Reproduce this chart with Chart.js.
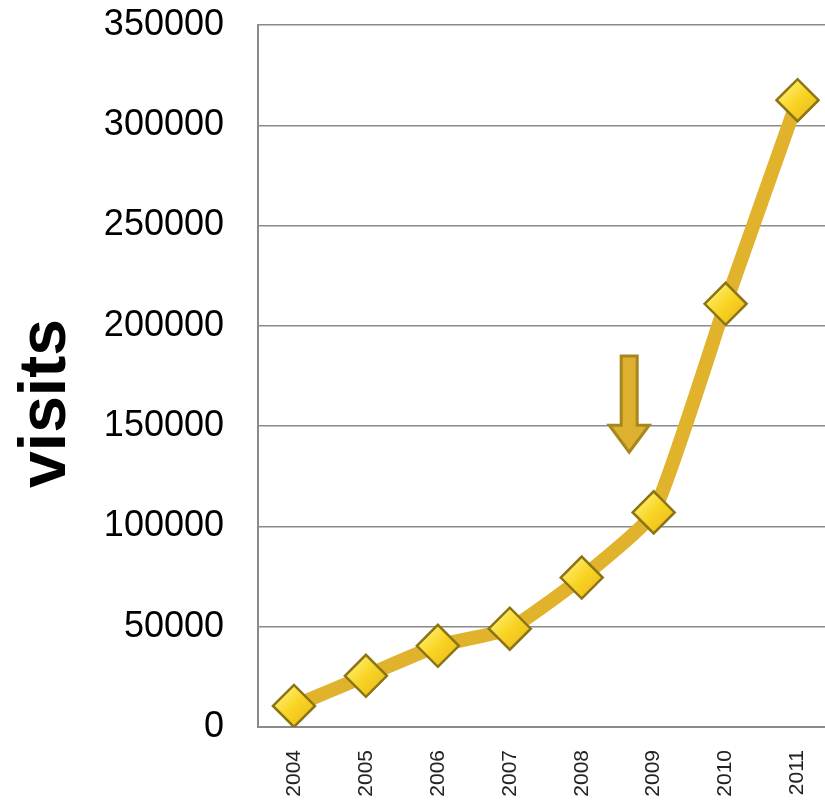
<!DOCTYPE html>
<html>
<head>
<meta charset="utf-8">
<script src="https://cdn.jsdelivr.net/npm/chart.js@4/dist/chart.umd.min.js"></script>
<style>
  html, body { margin: 0; padding: 0; background: #fff; overflow: hidden; }
  #wrap { width: 857px; height: 808px; }
</style>
</head>
<body>
<div id="wrap"><canvas id="myChart"></canvas></div>
<script>
// data
var years = ['2004', '2005', '2006', '2007', '2008', '2009', '2010', '2011'];
var visits = [10500, 25500, 40500, 49000, 74500, 107000, 211000, 312500];
var yTicks = [0, 50000, 100000, 150000, 200000, 250000, 300000, 350000];
// arrow marker, in data units (category index, value)
var arrowX = 4.66;
var arrowTop = 185000;
var arrowBottom = 137000;

var arrowPlugin = {
    id: 'arrow',
    afterDatasetsDraw: function (chart) {
        var c = chart.ctx;
        var x = chart.scales.x.getPixelForValue(arrowX);
        var top = chart.scales.y.getPixelForValue(arrowTop);
        var bottom = chart.scales.y.getPixelForValue(arrowBottom);
        var headH = 27, shaft = 8, head = 20;
        c.save();
        c.beginPath();
        c.moveTo(x - shaft, top);
        c.lineTo(x + shaft, top);
        c.lineTo(x + shaft, bottom - headH);
        c.lineTo(x + head, bottom - headH);
        c.lineTo(x, bottom);
        c.lineTo(x - head, bottom - headH);
        c.lineTo(x - shaft, bottom - headH);
        c.closePath();
        c.fillStyle = '#DDB12F';
        c.fill();
        c.lineWidth = 3;
        c.strokeStyle = '#A8861F';
        c.stroke();
        c.restore();
    }
};

// yellow marker with a little shine
var markerFill = function (context) {
    var chart = context.chart;
    if (!chart.scales || !chart.scales.x || context.parsed === undefined) return '#F7D42A';
    var x = chart.scales.x.getPixelForValue(context.dataIndex);
    var y = chart.scales.y.getPixelForValue(context.parsed.y);
    if (!isFinite(x) || !isFinite(y)) return '#F7D42A';
    var g = chart.ctx.createLinearGradient(x - 15, y - 15, x + 15, y + 15);
    g.addColorStop(0, '#FFF070');
    g.addColorStop(0.5, '#F8D424');
    g.addColorStop(1, '#EDBE1C');
    return g;
};

var ctx = document.getElementById('myChart').getContext('2d');
var chart = new Chart(ctx, {
    type: 'line',
    data: {
        labels: years,
        datasets: [{
            data: visits,
            borderColor: '#E1B22B',
            borderWidth: 14,
            tension: 0.15,
            pointStyle: 'rectRot',
            pointRadius: 21,
            pointHoverRadius: 21,
            pointBackgroundColor: markerFill,
            pointBorderColor: '#8A7414',
            pointBorderWidth: 2.5
        }]
    },
    options: {
        responsive: true,
        maintainAspectRatio: false,
        animation: false,
        layout: { padding: { top: 25, right: 0, left: 0, bottom: 0 } },
        plugins: {
            legend: { display: false },
            tooltip: { enabled: false }
        },
        scales: {
            x: {
                offset: true,
                grid: { display: false, drawTicks: false },
                border: { color: '#8a8a8a', width: 2 },
                ticks: {
                    color: '#222',
                    font: { family: 'Liberation Sans, Arial', size: 21 },
                    minRotation: 90,
                    maxRotation: 90,
                    padding: 23
                },
                afterFit: function (s) { s.height = 81; s.paddingLeft = 0; s.paddingRight = 0; }
            },
            y: {
                min: 0,
                max: 350000,
                afterBuildTicks: function (s) {
                    s.ticks = yTicks.map(function (v) { return { value: v }; });
                },
                grid: { color: '#8a8a8a', lineWidth: 1.5, drawTicks: false },
                border: { color: '#8a8a8a', width: 2 },
                ticks: {
                    color: '#000',
                    font: { family: 'Liberation Sans, Arial', size: 36 },
                    padding: 34,
                    callback: function (v) { return String(v); }
                },
                title: {
                    display: true,
                    text: 'visits   ',
                    color: '#000',
                    font: { family: 'Liberation Sans, Arial', size: 66, weight: 'bold' },
                    padding: { top: 7, bottom: 0 }
                },
                afterFit: function (s) { s.width = 258; s.paddingTop = 0; s.paddingBottom = 0; }
            }
        }
    },
    plugins: [arrowPlugin]
});
</script>
</body>
</html>
